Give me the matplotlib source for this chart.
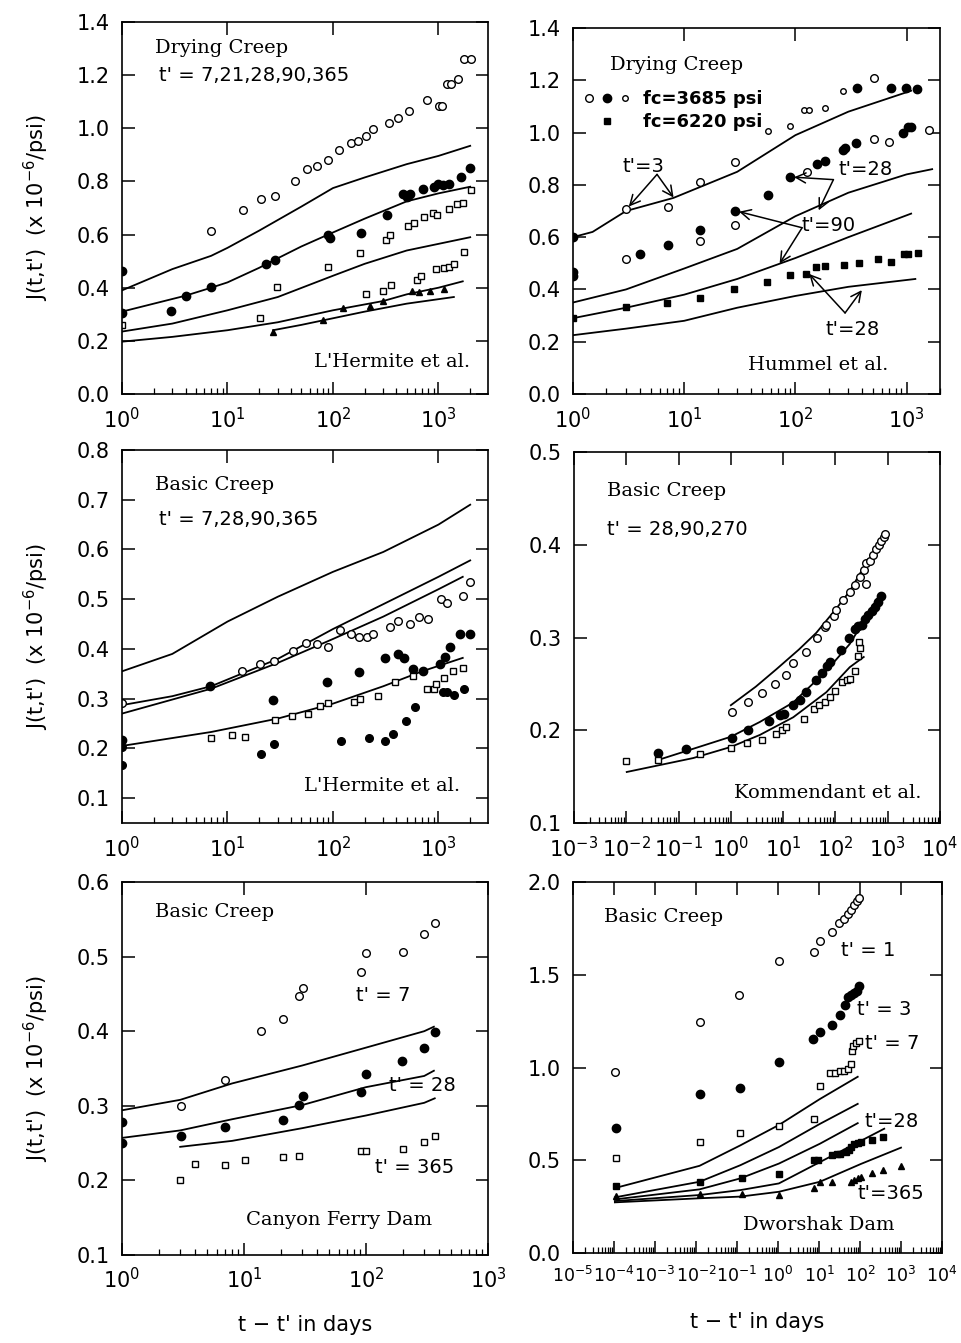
import numpy as np
import matplotlib.pyplot as plt
from matplotlib.lines import Line2D
from matplotlib.legend_handler import HandlerTuple
from matplotlib.ticker import FormatStrFormatter, LogLocator, NullFormatter

plt.rcParams['font.family'] = 'DejaVu Sans'
plt.rcParams['mathtext.default'] = 'regular'

# ---------------- panel 1: drying creep, L'Hermite ----------------
tl_o_x = [7.0, 13.9, 21, 28, 43.5, 57, 71, 90, 114, 147, 174, 206, 240, 340, 411, 526, 774, 1014, 1092, 1217, 1309, 1520, 1750, 2030]
tl_o_y = [0.612, 0.692, 0.734, 0.746, 0.802, 0.845, 0.859, 0.88, 0.919, 0.946, 0.952, 0.97, 0.996, 1.019, 1.039, 1.065, 1.106, 1.084, 1.084, 1.165, 1.165, 1.186, 1.261, 1.261]
tl_f_x = [1, 1, 2.94, 4, 7, 23, 28, 90, 94, 183, 328, 465, 508, 540, 710, 900, 1000, 1100, 1250, 1650, 1990]
tl_f_y = [0.462, 0.305, 0.312, 0.367, 0.402, 0.49, 0.505, 0.60, 0.587, 0.607, 0.675, 0.752, 0.74, 0.752, 0.771, 0.78, 0.79, 0.785, 0.79, 0.817, 0.85]
tl_s_x = [1, 20.5, 29.5, 90, 180, 318, 347, 510, 590, 735, 880, 960, 1260, 1500, 1700, 2040]
tl_s_y = [0.259, 0.287, 0.402, 0.477, 0.531, 0.581, 0.60, 0.634, 0.644, 0.665, 0.681, 0.674, 0.696, 0.714, 0.719, 0.769]
tl_s2_x = [206, 300, 358, 620, 680, 945, 1140, 1250, 1400, 1750]
tl_s2_y = [0.377, 0.389, 0.412, 0.43, 0.444, 0.469, 0.474, 0.477, 0.49, 0.534]
tl_t_x = [27, 80, 125, 225, 295, 560, 660, 830, 1140]
tl_t_y = [0.234, 0.277, 0.324, 0.33, 0.35, 0.386, 0.382, 0.387, 0.394]
tl_lines = [
    ([1, 3, 7, 10, 20, 50, 100, 200, 500, 1000, 2000], [0.39, 0.47, 0.52, 0.55, 0.615, 0.705, 0.775, 0.815, 0.865, 0.896, 0.934]),
    ([1, 4, 7, 10, 20, 28, 50, 90, 200, 500, 1000, 2000], [0.31, 0.37, 0.40, 0.42, 0.475, 0.505, 0.555, 0.60, 0.66, 0.725, 0.755, 0.78]),
    ([1, 3, 10, 30, 100, 200, 500, 1000, 2000], [0.235, 0.265, 0.315, 0.365, 0.445, 0.49, 0.54, 0.565, 0.59]),
    ([1, 3, 10, 30, 100, 300, 500, 1000, 1700], [0.197, 0.215, 0.24, 0.27, 0.315, 0.35, 0.375, 0.40, 0.424]),
    ([27, 50, 100, 200, 500, 1400], [0.24, 0.26, 0.285, 0.31, 0.34, 0.365]),
]

# ---------------- panel 2: drying creep, Hummel ----------------
tr_o_x = [3.0, 7.1, 14, 28.6, 515, 3.0, 14, 28.6, 126, 515, 690, 1600]
tr_o_y = [0.706, 0.716, 0.81, 0.888, 1.21, 0.518, 0.585, 0.648, 0.85, 0.975, 0.965, 1.01]
tr_so_x = [56.5, 90, 119, 133, 183, 270]
tr_so_y = [1.006, 1.024, 1.085, 1.085, 1.095, 1.16]
tr_f_x = [1, 1, 1, 4.0, 7.1, 14, 28.6, 56.5, 90, 155, 183, 270, 280, 350, 930, 1030, 1100, 360, 720, 980, 1230]
tr_f_y = [0.60, 0.465, 0.45, 0.537, 0.569, 0.627, 0.70, 0.76, 0.83, 0.88, 0.89, 0.935, 0.94, 0.96, 1.0, 1.02, 1.02, 1.17, 1.17, 1.17, 1.165]
tr_s_x = [1, 3, 7, 14, 28, 56, 90, 124, 153, 183, 272, 370, 550, 720, 950, 1030, 1270]
tr_s_y = [0.29, 0.334, 0.347, 0.366, 0.40, 0.43, 0.457, 0.46, 0.485, 0.49, 0.495, 0.50, 0.515, 0.505, 0.535, 0.535, 0.54]
tr_lines = [
    ([1, 1.5, 3, 8, 30, 100, 300, 1100], [0.60, 0.62, 0.70, 0.75, 0.85, 0.99, 1.08, 1.16]),
    ([1, 3, 10, 30, 100, 300, 1000, 1700], [0.35, 0.40, 0.48, 0.555, 0.68, 0.77, 0.84, 0.86]),
    ([1, 3, 10, 30, 100, 300, 1100], [0.29, 0.33, 0.38, 0.44, 0.52, 0.60, 0.69]),
    ([1, 3, 10, 30, 100, 300, 1200], [0.225, 0.25, 0.28, 0.33, 0.375, 0.41, 0.44]),
]

# ---------------- panel 3: basic creep, L'Hermite ----------------
ml_o_x = [1, 13.8, 20.5, 27.5, 41.6, 55, 70, 90, 116, 149, 177, 210, 240, 344, 417, 540, 655, 790, 1050, 1200, 1700, 2000]
ml_o_y = [0.291, 0.356, 0.37, 0.376, 0.396, 0.411, 0.409, 0.403, 0.438, 0.43, 0.424, 0.424, 0.43, 0.444, 0.457, 0.45, 0.465, 0.46, 0.50, 0.493, 0.507, 0.534]
ml_f_x = [1, 6.9, 27, 88, 178, 314, 410, 470, 580, 720, 1030, 1150, 1290, 1600, 1990]
ml_f_y = [0.216, 0.325, 0.298, 0.334, 0.353, 0.381, 0.389, 0.381, 0.36, 0.356, 0.37, 0.384, 0.404, 0.431, 0.431]
ml_f2_x = [1, 1, 20.8, 27.8, 120, 220, 310, 370, 490, 595, 1100, 1200, 1400, 1750]
ml_f2_y = [0.202, 0.167, 0.189, 0.209, 0.214, 0.22, 0.215, 0.228, 0.256, 0.283, 0.314, 0.314, 0.307, 0.32]
ml_s_x = [7, 11, 14.8, 28, 41, 58, 76, 90, 157, 180, 265, 385, 570, 780, 900, 940, 1140, 1380, 1700]
ml_s_y = [0.221, 0.226, 0.222, 0.258, 0.265, 0.27, 0.285, 0.292, 0.294, 0.30, 0.305, 0.333, 0.345, 0.32, 0.32, 0.33, 0.342, 0.356, 0.362]
ml_lines = [
    ([1, 3, 10, 30, 100, 300, 1000, 2000], [0.355, 0.39, 0.455, 0.505, 0.555, 0.595, 0.65, 0.69]),
    ([1, 3, 7, 30, 100, 300, 1000, 2000], [0.287, 0.305, 0.325, 0.38, 0.44, 0.49, 0.545, 0.578]),
    ([1, 7, 30, 100, 300, 1000, 1700], [0.27, 0.32, 0.372, 0.42, 0.465, 0.52, 0.545]),
    ([1, 7, 30, 100, 300, 700, 1700], [0.205, 0.233, 0.26, 0.29, 0.325, 0.355, 0.382]),
]

# ---------------- panel 4: basic creep, Kommendant ----------------
mr_o_x = [1.03, 2.14, 3.86, 6.93, 11.2, 15.1, 27.9, 44.7, 64.4, 67.3, 92.9, 104, 140, 188, 234, 292, 348, 380, 391, 453, 525, 607, 683, 757, 839, 877]
mr_o_y = [0.220, 0.230, 0.240, 0.250, 0.260, 0.272, 0.284, 0.299, 0.311, 0.314, 0.323, 0.330, 0.340, 0.349, 0.357, 0.365, 0.373, 0.358, 0.380, 0.382, 0.389, 0.395, 0.400, 0.404, 0.408, 0.412]
mr_f_x = [0.0408, 0.136, 1.03, 2.14, 5.3, 8.6, 10.3, 15.1, 20.7, 27.2, 42, 55, 70, 80, 130, 182, 234, 270, 316, 365, 420, 490, 570, 660, 757]
mr_f_y = [0.176, 0.180, 0.192, 0.200, 0.210, 0.216, 0.218, 0.2275, 0.233, 0.241, 0.2546, 0.262, 0.269, 0.274, 0.286, 0.299, 0.309, 0.312, 0.314, 0.320, 0.324, 0.329, 0.333, 0.338, 0.345]
mr_s_x = [0.0098, 0.041, 0.256, 1, 2.0, 4.0, 7.2, 9.6, 11.5, 24.7, 38.7, 48.5, 62, 77.5, 97, 136, 166, 192, 234, 270, 292, 284]
mr_s_y = [0.167, 0.168, 0.174, 0.181, 0.186, 0.19, 0.196, 0.20, 0.203, 0.2125, 0.223, 0.227, 0.23, 0.236, 0.242, 0.252, 0.254, 0.255, 0.264, 0.28, 0.289, 0.295]
mr_lines = [
    ([1.0, 3.0, 7.5, 20, 43, 100, 188, 421], [0.227, 0.247, 0.266, 0.287, 0.305, 0.33, 0.35, 0.384]),
    ([0.0408, 0.19, 1.0, 3.6, 15.6, 67, 188, 700], [0.168, 0.18, 0.193, 0.209, 0.23, 0.264, 0.293, 0.346]),
    ([0.0102, 0.19, 1.0, 3.6, 15.6, 67, 188, 348], [0.155, 0.17, 0.182, 0.195, 0.214, 0.241, 0.268, 0.279]),
]

# ---------------- panel 5: basic creep, Canyon Ferry Dam ----------------
bl_o_x = [3.06, 7.03, 13.9, 20.9, 28, 30.5, 91.6, 100, 200, 299, 366]
bl_o_y = [0.30, 0.335, 0.40, 0.416, 0.447, 0.458, 0.48, 0.505, 0.506, 0.53, 0.545]
bl_f_x = [1, 1, 3.06, 7, 21, 28, 30.5, 91.6, 100, 197, 297, 366]
bl_f_y = [0.278, 0.25, 0.26, 0.272, 0.281, 0.301, 0.313, 0.319, 0.342, 0.36, 0.377, 0.399]
bl_s_x = [3, 4.0, 7, 10.1, 21, 28, 91, 100, 200, 297, 366]
bl_s_y = [0.20, 0.222, 0.221, 0.228, 0.232, 0.233, 0.239, 0.24, 0.2425, 0.251, 0.259]
bl_lines = [
    ([1, 3, 8, 30, 100, 300, 360], [0.294, 0.308, 0.330, 0.354, 0.378, 0.400, 0.406]),
    ([1, 3, 8, 30, 100, 300, 360], [0.257, 0.267, 0.282, 0.301, 0.325, 0.340, 0.347]),
    ([3, 8, 30, 100, 300, 366], [0.245, 0.253, 0.27, 0.287, 0.304, 0.31]),
]

# ---------------- panel 6: basic creep, Dworshak Dam ----------------
br_o_x = [1.05e-4, 0.0122, 0.114, 1.05, 7.5, 10.5, 21, 31, 41, 51, 62, 72, 83, 95]
br_o_y = [0.977, 1.246, 1.393, 1.575, 1.62, 1.684, 1.73, 1.777, 1.80, 1.825, 1.85, 1.875, 1.896, 1.914]
br_f_x = [1.09e-4, 0.0122, 0.12, 1.05, 7.3, 10.5, 21, 32, 43, 51, 62, 72, 83, 95]
br_f_y = [0.675, 0.857, 0.889, 1.027, 1.152, 1.193, 1.229, 1.282, 1.339, 1.379, 1.393, 1.402, 1.414, 1.4375]
br_os_x = [1.09e-4, 0.0122, 0.12, 1.05, 7.5, 10.8, 19, 25, 33, 41, 50, 60, 65, 69, 79, 92]
br_os_y = [0.514, 0.598, 0.648, 0.682, 0.723, 0.90, 0.973, 0.973, 0.982, 0.982, 0.991, 1.018, 1.089, 1.116, 1.134, 1.143]
br_fs_x = [1.09e-4, 0.0122, 0.13, 1.05, 7.5, 9.4, 21, 28, 33, 45, 55, 62, 72, 87, 105, 200, 360]
br_fs_y = [0.361, 0.382, 0.402, 0.425, 0.50, 0.50, 0.527, 0.536, 0.536, 0.545, 0.557, 0.571, 0.586, 0.593, 0.598, 0.607, 0.625]
br_t_x = [1.09e-4, 0.0122, 0.13, 1.05, 7.5, 10.8, 21, 60, 72, 87, 105, 200, 360, 1000]
br_t_y = [0.307, 0.318, 0.318, 0.3125, 0.348, 0.384, 0.384, 0.384, 0.393, 0.402, 0.41, 0.43, 0.446, 0.468]
br_line_x = [1.05e-4, 0.0122, 0.12, 1.05, 10.5, 88]
br_lines = [
    (br_line_x, [0.35, 0.47, 0.58, 0.69, 0.83, 0.95]),
    (br_line_x, [0.30, 0.384, 0.473, 0.571, 0.696, 0.804]),
    (br_line_x, [0.289, 0.343, 0.402, 0.482, 0.589, 0.70]),
    ([1.05e-4, 0.0122, 0.12, 1.05, 10.5, 390], [0.28, 0.3125, 0.339, 0.375, 0.49, 0.67]),
    ([1.05e-4, 0.0122, 0.12, 1.05, 10.5, 105, 1000], [0.273, 0.295, 0.304, 0.33, 0.384, 0.48, 0.568]),
]

W, H = 961, 1343
fig = plt.figure(figsize=(W / 100, H / 100), dpi=100)


def px_axes(x0, y0, x1, y1):
    return fig.add_axes([x0 / W, 1 - y1 / H, (x1 - x0) / W, (y1 - y0) / H])


def setup(ax, xlim, ylim, yticks, xticks):
    ax.set_xscale('log')
    ax.set_xlim(*xlim)
    ax.set_ylim(*ylim)
    ax.set_yticks(yticks)
    ax.set_xticks(xticks)
    ax.xaxis.set_minor_locator(LogLocator(base=10, subs=np.arange(2, 10), numticks=30))
    ax.xaxis.set_minor_formatter(NullFormatter())
    ax.yaxis.set_major_formatter(FormatStrFormatter('%.1f'))
    ax.tick_params(which='major', direction='in', top=True, right=True,
                   length=9, width=1.1, labelsize=15, pad=9)
    ax.tick_params(which='minor', direction='in', top=False, right=False,
                   length=4.5, width=0.9)
    for s in ax.spines.values():
        s.set_linewidth(1.2)


def draw_lines(ax, lines):
    for lx, ly in lines:
        ax.plot(lx, ly, color='black', lw=1.3)


def open_pts(ax, x, y, m='o', ms=5.5):
    ax.plot(x, y, m, ls='none', mfc='white', mec='black', mew=1.0, ms=ms)


def fill_pts(ax, x, y, m='o', ms=6):
    ax.plot(x, y, m, ls='none', mfc='black', mec='black', ms=ms)


serif = dict(family='DejaVu Serif', fontsize=14)
sans = dict(fontsize=14)

# panel 1
ax1 = px_axes(122, 22, 488, 394)
setup(ax1, (1, 2950), (0, 1.4), np.arange(0, 1.41, 0.2), [1, 10, 100, 1000])
draw_lines(ax1, tl_lines)
open_pts(ax1, tl_o_x, tl_o_y)
fill_pts(ax1, tl_f_x, tl_f_y)
open_pts(ax1, tl_s_x, tl_s_y, 's', 4.5)
open_pts(ax1, tl_s2_x, tl_s2_y, 's', 4.5)
fill_pts(ax1, tl_t_x, tl_t_y, '^', 5)
ax1.text(0.09, 0.93, 'Drying Creep', transform=ax1.transAxes, va='center', **serif)
ax1.text(0.10, 0.855, "t' = 7,21,28,90,365", transform=ax1.transAxes, va='center', **sans)
ax1.text(0.95, 0.085, "L'Hermite et al.", transform=ax1.transAxes, va='center', ha='right', **serif)

# panel 2
ax2 = px_axes(573, 28, 940, 394)
setup(ax2, (1, 2000), (0, 1.4), np.arange(0, 1.41, 0.2), [1, 10, 100, 1000])
draw_lines(ax2, tr_lines)
open_pts(ax2, tr_o_x, tr_o_y)
open_pts(ax2, tr_so_x, tr_so_y, 'o', 4)
fill_pts(ax2, tr_f_x, tr_f_y)
fill_pts(ax2, tr_s_x, tr_s_y, 's', 4.5)
ax2.text(0.10, 0.90, 'Drying Creep', transform=ax2.transAxes, va='center', **serif)
h1 = Line2D([], [], marker='o', ls='none', mfc='white', mec='black', ms=5.5)
h2 = Line2D([], [], marker='o', ls='none', mfc='black', mec='black', ms=6)
h3 = Line2D([], [], marker='o', ls='none', mfc='white', mec='black', ms=4)
h4 = Line2D([], [], marker='s', ls='none', mfc='black', mec='black', ms=4.5)
blank = Line2D([], [], ls='none')
ax2.legend([(h1, h2, h3), (blank, h4, blank)], ['fc=3685 psi', 'fc=6220 psi'],
           handler_map={tuple: HandlerTuple(ndivide=None, pad=0.6)},
           loc='upper left', bbox_to_anchor=(-0.01, 0.875), frameon=False,
           handlelength=2.4, handletextpad=0.8, labelspacing=0.3,
           prop={'weight': 'bold', 'size': 13})
arrow = dict(arrowstyle='->', lw=1.1, color='black', mutation_scale=18, shrinkA=0, shrinkB=2)
ax2.text(4.3, 0.87, "t'=3", ha='center', va='center', **sans)
for hx, hy in [(3.06, 0.709), (8.3, 0.743)]:
    ax2.annotate('', xy=(hx, hy), xytext=(5.7, 0.84), arrowprops=arrow)
ax2.text(430, 0.86, "t'=28", ha='center', va='center', **sans)
for hx, hy in [(92, 0.83), (158, 0.693)]:
    ax2.annotate('', xy=(hx, hy), xytext=(220, 0.82), arrowprops=arrow)
ax2.text(200, 0.645, "t'=90", ha='center', va='center', **sans)
for hx, hy in [(29.5, 0.70), (70, 0.49)]:
    ax2.annotate('', xy=(hx, hy), xytext=(115, 0.636), arrowprops=arrow)
ax2.text(330, 0.245, "t'=28", ha='center', va='center', **sans)
for hx, hy in [(128, 0.467), (410, 0.406)]:
    ax2.annotate('', xy=(hx, hy), xytext=(280, 0.31), arrowprops=arrow)
ax2.text(0.86, 0.08, 'Hummel et al.', transform=ax2.transAxes, va='center', ha='right', **serif)

# panel 3
ax3 = px_axes(122, 450, 488, 823)
setup(ax3, (1, 2950), (0.05, 0.8), np.arange(0.1, 0.81, 0.1), [1, 10, 100, 1000])
draw_lines(ax3, ml_lines)
open_pts(ax3, ml_o_x, ml_o_y)
fill_pts(ax3, ml_f_x, ml_f_y)
fill_pts(ax3, ml_f2_x, ml_f2_y, 'o', 5.5)
open_pts(ax3, ml_s_x, ml_s_y, 's', 4.5)
ax3.text(0.09, 0.905, 'Basic Creep', transform=ax3.transAxes, va='center', **serif)
ax3.text(0.10, 0.815, "t' = 7,28,90,365", transform=ax3.transAxes, va='center', **sans)
ax3.text(0.925, 0.10, "L'Hermite et al.", transform=ax3.transAxes, va='center', ha='right', **serif)

# panel 4
ax4 = px_axes(574, 452, 940, 823)
setup(ax4, (1e-3, 1e4), (0.1, 0.5), np.arange(0.1, 0.51, 0.1), [10.0 ** k for k in range(-3, 5)])
draw_lines(ax4, mr_lines)
open_pts(ax4, mr_o_x, mr_o_y)
fill_pts(ax4, mr_f_x, mr_f_y)
open_pts(ax4, mr_s_x, mr_s_y, 's', 4.5)
ax4.text(0.09, 0.895, 'Basic Creep', transform=ax4.transAxes, va='center', **serif)
ax4.text(0.09, 0.79, "t' = 28,90,270", transform=ax4.transAxes, va='center', **sans)
ax4.text(0.95, 0.08, 'Kommendant et al.', transform=ax4.transAxes, va='center', ha='right', **serif)

# panel 5
ax5 = px_axes(122, 882, 488, 1255)
setup(ax5, (1, 1000), (0.1, 0.6), np.arange(0.1, 0.61, 0.1), [1, 10, 100, 1000])
draw_lines(ax5, bl_lines)
open_pts(ax5, bl_o_x, bl_o_y)
fill_pts(ax5, bl_f_x, bl_f_y)
open_pts(ax5, bl_s_x, bl_s_y, 's', 4.5)
ax5.text(0.09, 0.92, 'Basic Creep', transform=ax5.transAxes, va='center', **serif)
ax5.text(0.64, 0.695, "t' = 7", transform=ax5.transAxes, va='center', **sans)
ax5.text(0.73, 0.455, "t' = 28", transform=ax5.transAxes, va='center', **sans)
ax5.text(0.69, 0.235, "t' = 365", transform=ax5.transAxes, va='center', **sans)
ax5.text(0.34, 0.095, 'Canyon Ferry Dam', transform=ax5.transAxes, va='center', **serif)

# panel 6
ax6 = px_axes(573, 882, 942, 1253)
setup(ax6, (1e-5, 1e4), (0, 2.0), np.arange(0, 2.01, 0.5), [10.0 ** k for k in range(-5, 5)])
ax6.tick_params(axis='x', which='major', labelsize=12.5)
draw_lines(ax6, br_lines)
open_pts(ax6, br_o_x, br_o_y)
fill_pts(ax6, br_f_x, br_f_y)
open_pts(ax6, br_os_x, br_os_y, 's', 4.5)
fill_pts(ax6, br_fs_x, br_fs_y, 's', 4.5)
fill_pts(ax6, br_t_x, br_t_y, '^', 5)
ax6.text(0.085, 0.905, 'Basic Creep', transform=ax6.transAxes, va='center', **serif)
ax6.text(0.725, 0.815, "t' = 1", transform=ax6.transAxes, va='center', **sans)
ax6.text(0.77, 0.655, "t' = 3", transform=ax6.transAxes, va='center', **sans)
ax6.text(0.79, 0.565, "t' = 7", transform=ax6.transAxes, va='center', **sans)
ax6.text(0.79, 0.355, "t'=28", transform=ax6.transAxes, va='center', **sans)
ax6.text(0.77, 0.16, "t'=365", transform=ax6.transAxes, va='center', **sans)
ax6.text(0.46, 0.075, 'Dworshak Dam', transform=ax6.transAxes, va='center', **serif)

ylab = "J(t,t')  (x 10$^{-6}$/psi)"
for ax in (ax1, ax3, ax5):
    ax.set_ylabel(ylab, fontsize=15)
    ax.yaxis.set_label_coords(-0.195, 0.5)
for ax in (ax5, ax6):
    ax.set_xlabel("t − t' in days", fontsize=15)
    ax.xaxis.set_label_coords(0.5, -0.16)

fig.savefig('out.png', dpi=100)
